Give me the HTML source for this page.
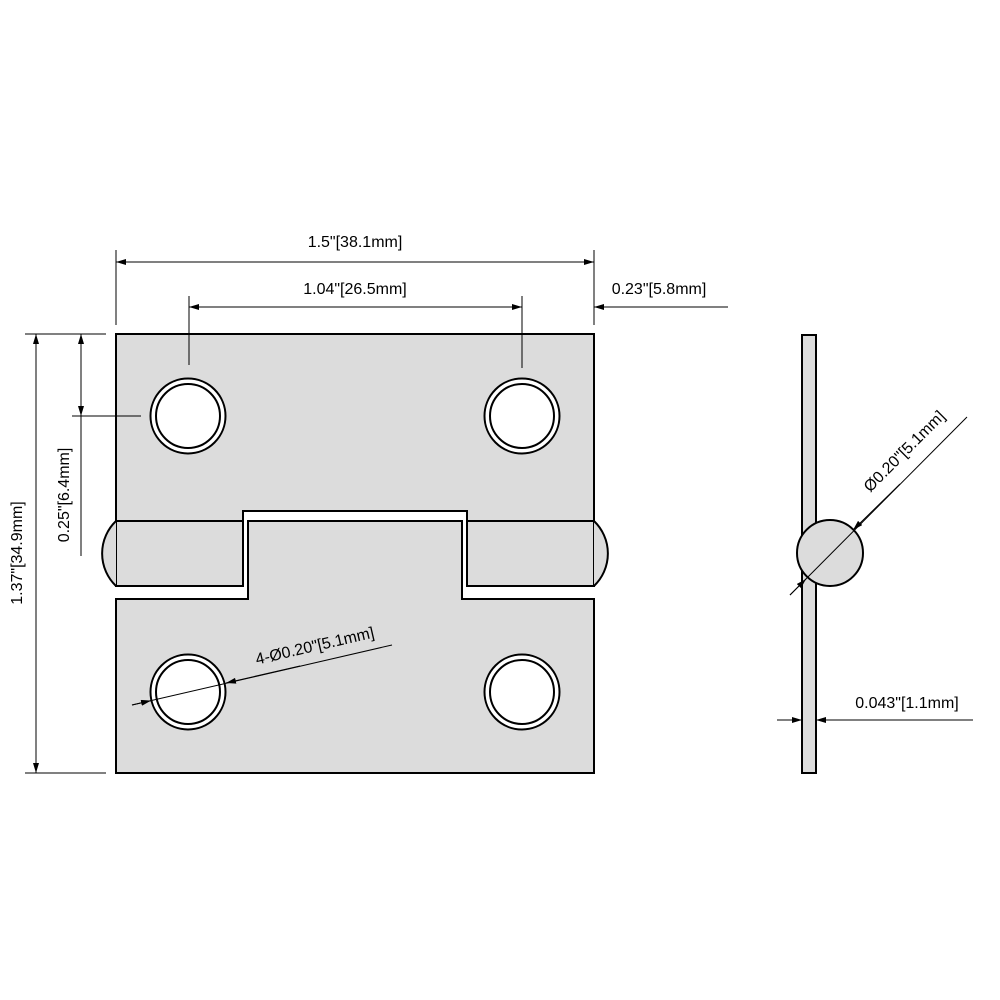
<!DOCTYPE html>
<html><head><style>body{margin:0;background:#fff}svg{display:block}</style></head><body>
<svg width="1000" height="1000" viewBox="0 0 1000 1000" xmlns="http://www.w3.org/2000/svg" font-family="Liberation Sans, sans-serif">
<defs>
<marker id="a" viewBox="0 0 10 6" refX="10" refY="3" markerWidth="10" markerHeight="6" markerUnits="userSpaceOnUse" orient="auto-start-reverse"><path d="M0,0 L10,3 L0,6 Z" fill="#000"/></marker>
</defs>
<g fill="#dcdcdc" stroke="#000" stroke-width="2">
<path d="M116,334 H594 V521 H467 V511 H243 V521 H116 Z"/>
<path d="M116,521 H243 V586 H116 Z"/>
<path d="M467,521 H594 V586 H467 Z"/>
<path d="M116,521 A45,45 0 0 0 116,586"/>
<path d="M594,521 A45,45 0 0 1 594,586"/>
<path d="M248,521 H462 V599 H594 V773 H116 V599 H248 Z"/>
<rect x="802" y="335" width="14" height="438"/>
<circle cx="830" cy="553" r="33"/>
</g>
<g fill="#fff" stroke="#000" stroke-width="2">
<circle cx="188" cy="416" r="37.5"/><circle cx="188" cy="416" r="32"/>
<circle cx="522" cy="416" r="37.5"/><circle cx="522" cy="416" r="32"/>
<circle cx="188" cy="692" r="37.5"/><circle cx="188" cy="692" r="32"/>
<circle cx="522" cy="692" r="37.5"/><circle cx="522" cy="692" r="32"/>
</g>
<g stroke="#000" stroke-width="1" fill="none">
<line x1="116" y1="250" x2="116" y2="325"/><line x1="594" y1="250" x2="594" y2="325"/>
<line x1="116" y1="262" x2="594" y2="262" marker-start="url(#a)" marker-end="url(#a)"/>
<line x1="189" y1="296" x2="189" y2="365"/><line x1="522" y1="296" x2="522" y2="368"/>
<line x1="189" y1="307" x2="522" y2="307" marker-start="url(#a)" marker-end="url(#a)"/>
<line x1="728" y1="307" x2="594" y2="307" marker-end="url(#a)"/>
<line x1="25" y1="334" x2="106" y2="334"/><line x1="25" y1="773" x2="106" y2="773"/>
<line x1="36" y1="334" x2="36" y2="773" marker-start="url(#a)" marker-end="url(#a)"/>
<line x1="72" y1="416" x2="141" y2="416"/>
<line x1="81" y1="556" x2="81" y2="334" marker-end="url(#a)"/>
<line x1="81" y1="334" x2="81" y2="416" marker-end="url(#a)"/>
<line x1="132" y1="705" x2="392" y2="645"/>
<line x1="132" y1="705" x2="151" y2="700.6" marker-end="url(#a)"/>
<line x1="300" y1="666" x2="226" y2="683" marker-end="url(#a)"/>
<line x1="967" y1="417" x2="790" y2="595"/>
<line x1="900" y1="484" x2="853" y2="530" marker-end="url(#a)"/>
<line x1="790" y1="595" x2="806" y2="579" marker-end="url(#a)"/>
<line x1="777" y1="720" x2="802" y2="720" marker-end="url(#a)"/>
<line x1="973" y1="720" x2="816" y2="720" marker-end="url(#a)"/>
</g>
<g font-size="16" fill="#000">
<text x="355" y="247" text-anchor="middle">1.5"[38.1mm]</text>
<text x="355" y="294" text-anchor="middle">1.04"[26.5mm]</text>
<text x="659" y="294" text-anchor="middle">0.23"[5.8mm]</text>
<text x="907" y="708" text-anchor="middle">0.043"[1.1mm]</text>
<text transform="translate(22,553) rotate(-90)" text-anchor="middle">1.37"[34.9mm]</text>
<text transform="translate(69,495) rotate(-90)" text-anchor="middle">0.25"[6.4mm]</text>
<text transform="translate(316,651) rotate(-13)" text-anchor="middle">4-Ø0.20"[5.1mm]</text>
<text transform="translate(908,455) rotate(-45)" text-anchor="middle">Ø0.20"[5.1mm]</text>
</g>
</svg>
</body></html>
